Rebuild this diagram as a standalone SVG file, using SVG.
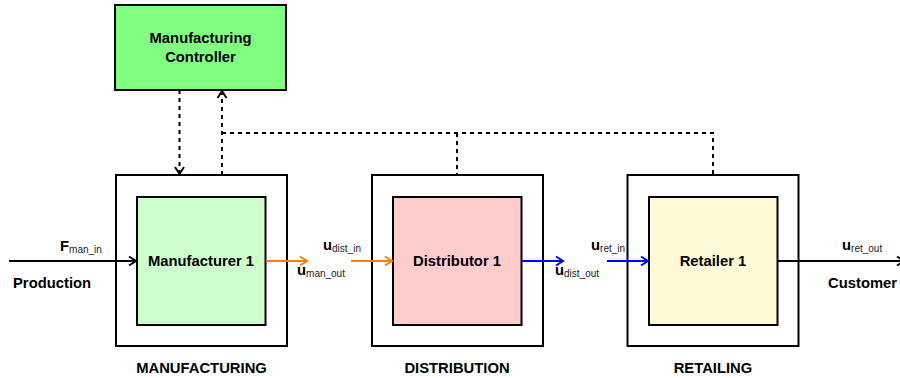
<svg xmlns="http://www.w3.org/2000/svg" width="900" height="378" viewBox="0 0 900 378">
  <style>
    .lbl { font-family: "Liberation Sans", Arial, Helvetica, sans-serif; font-weight: bold; font-size: 14.8px; fill: #000; }
    .sub { font-weight: normal; font-size: 10px; fill: #222; }
    .outer { fill: #fff; stroke: #000; stroke-width: 2; }
    .inner { stroke: #000; stroke-width: 2; }
    .flow { fill: none; stroke-width: 2; }
    .dash { fill: none; stroke: #000; stroke-width: 2; stroke-dasharray: 4 4; }
  </style>
  <defs>
    <marker id="openBlack" markerUnits="userSpaceOnUse" markerWidth="12" markerHeight="12" viewBox="-10 -6 12 12" refX="0" refY="0" orient="auto" overflow="visible">
      <path d="M-7,-4.5 L0,0 L-7,4.5" fill="none" stroke="#000" stroke-width="2"/>
    </marker>
    <marker id="openOrange" markerUnits="userSpaceOnUse" markerWidth="12" markerHeight="12" viewBox="-10 -6 12 12" refX="0" refY="0" orient="auto" overflow="visible">
      <path d="M-7,-4.5 L0,0 L-7,4.5" fill="none" stroke="#FF8000" stroke-width="2"/>
    </marker>
    <marker id="openBlue" markerUnits="userSpaceOnUse" markerWidth="12" markerHeight="12" viewBox="-10 -6 12 12" refX="0" refY="0" orient="auto" overflow="visible">
      <path d="M-7,-4.5 L0,0 L-7,4.5" fill="none" stroke="#0000FF" stroke-width="2"/>
    </marker>
  </defs>

  <rect width="900" height="378" fill="#fff"/>

  <!-- Controller -->
  <g id="controller">
    <rect x="115" y="5" width="171" height="85" fill="#80FF80" stroke="#000" stroke-width="2"/>
    <text class="lbl" x="200.5" y="43" text-anchor="middle">Manufacturing</text>
    <text class="lbl" x="200.5" y="62" text-anchor="middle">Controller</text>
  </g>

  <!-- Manufacturing stage -->
  <g id="manufacturing">
    <rect class="outer" x="116" y="175" width="171" height="171"/>
    <text class="lbl" x="201.5" y="373" text-anchor="middle">MANUFACTURING</text>
  </g>
  <g id="manufacturer1">
    <rect class="inner" x="137" y="197" width="128.5" height="128" fill="#CCFFCC"/>
    <text class="lbl" x="201" y="266" text-anchor="middle">Manufacturer 1</text>
  </g>

  <!-- Distribution stage -->
  <g id="distribution">
    <rect class="outer" x="372" y="175" width="171" height="171"/>
    <text class="lbl" x="457" y="373" text-anchor="middle">DISTRIBUTION</text>
  </g>
  <g id="distributor1">
    <rect class="inner" x="393" y="197" width="128.5" height="128" fill="#FFCCCC"/>
    <text class="lbl" x="457" y="266" text-anchor="middle">Distributor 1</text>
  </g>

  <!-- Retailing stage -->
  <g id="retailing">
    <rect class="outer" x="627.5" y="175" width="171" height="171"/>
    <text class="lbl" x="713" y="373" text-anchor="middle">RETAILING</text>
  </g>
  <g id="retailer1">
    <rect class="inner" x="649" y="197" width="128.5" height="128" fill="#FFF9D6"/>
    <text class="lbl" x="713" y="266" text-anchor="middle">Retailer 1</text>
  </g>

  <!-- Connectors -->
  <g id="connectors">
    <!-- control links -->
    <path class="dash" d="M179.5,90 V174" marker-end="url(#openBlack)"/>
    <path class="dash" d="M222,175 V91" marker-end="url(#openBlack)"/>
    <path class="dash" d="M222,133 H713 V175"/>
    <path class="dash" d="M457,133 V175"/>

    <!-- material flow -->
    <path class="flow" stroke="#000" d="M9,261 H136" marker-end="url(#openBlack)"/>
    <path class="flow" stroke="#FF8000" d="M266,261 H307" marker-end="url(#openOrange)"/>
    <path class="flow" stroke="#FF8000" d="M351,261 H392" marker-end="url(#openOrange)"/>
    <path class="flow" stroke="#0000FF" d="M522,261 H563" marker-end="url(#openBlue)"/>
    <path class="flow" stroke="#0000FF" d="M607,261 H648" marker-end="url(#openBlue)"/>
    <path class="flow" stroke="#000" d="M778,261 H904" marker-end="url(#openBlack)"/>
  </g>

  <!-- Flow labels -->
  <g id="flow-labels">
    <text class="lbl" x="60" y="251">F<tspan class="sub" dy="2">man_in</tspan></text>
    <text class="lbl" x="13" y="288">Production</text>
    <text class="lbl" x="323" y="250">u<tspan class="sub" dy="2">dist_in</tspan></text>
    <text class="lbl" x="297" y="275">u<tspan class="sub" dy="2">man_out</tspan></text>
    <text class="lbl" x="555" y="275">u<tspan class="sub" dy="2">dist_out</tspan></text>
    <text class="lbl" x="591" y="250">u<tspan class="sub" dy="2">ret_in</tspan></text>
    <text class="lbl" x="842" y="250">u<tspan class="sub" dy="2">ret_out</tspan></text>
    <text class="lbl" x="828" y="288">Customer</text>
  </g>
</svg>
